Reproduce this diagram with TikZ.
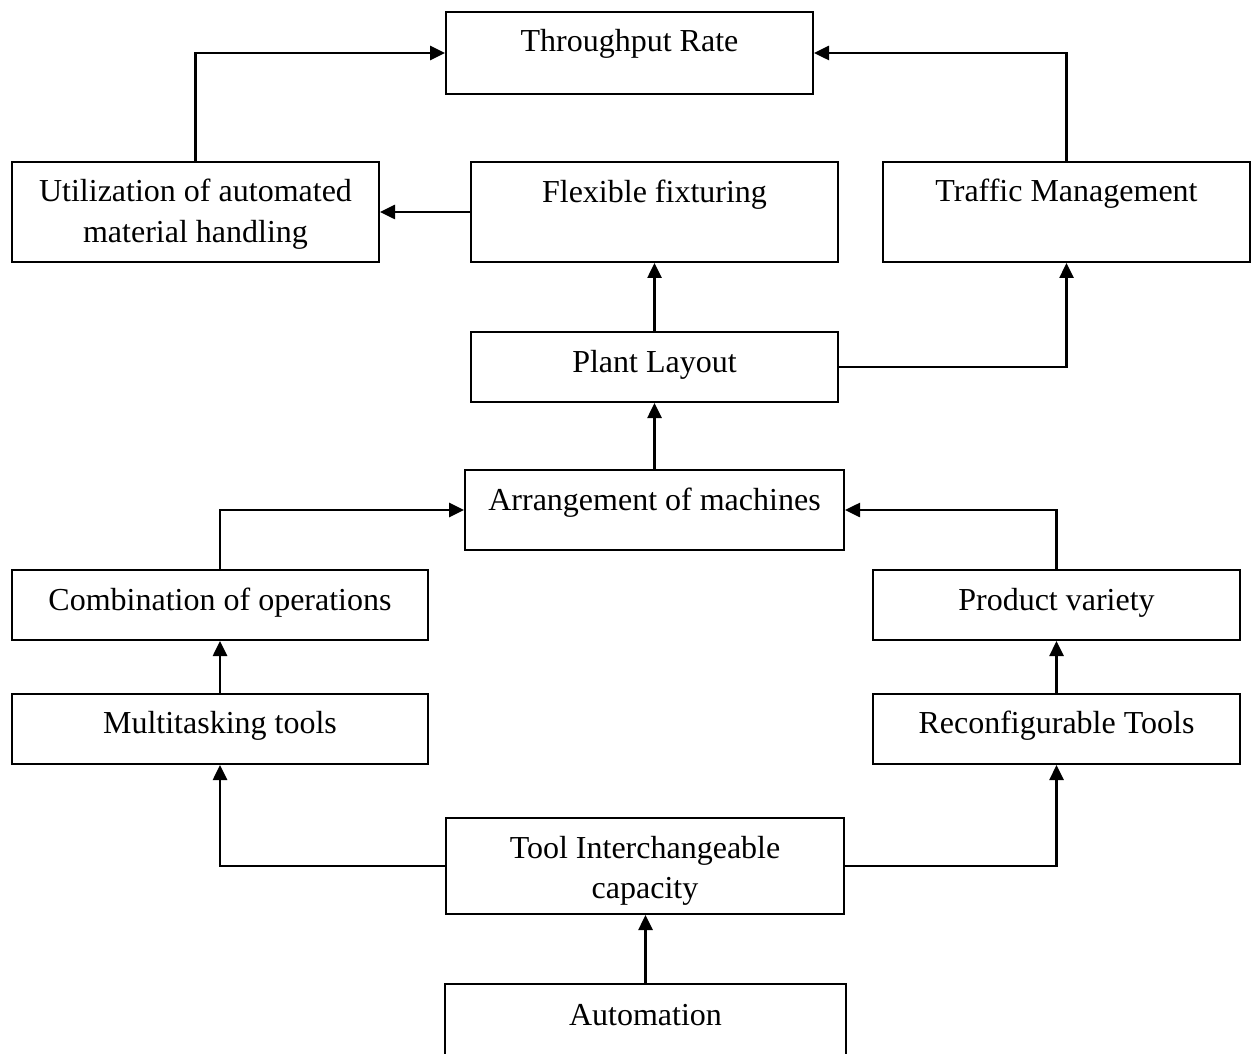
\documentclass[tikz,border=0pt]{standalone}
\usepackage{fontspec}
\setmainfont{Liberation Serif}
\usetikzlibrary{arrows.meta}

\begin{document}
\begin{tikzpicture}[
  x=0.5pt, y=-0.5pt,
  box/.style={draw=black, line width=1pt, rectangle, inner sep=0pt, fill=white},
  txt/.style={anchor=base, inner sep=0pt, font=\fontsize{16pt}{20.5pt}\selectfont},
  conn/.style={line width=1.3pt, -{Triangle[length=7.5pt,width=7pt]}}
]
\useasboundingbox (0,0) rectangle (1256,1053);
\clip (0,0) rectangle (1256,1053);

% boxes (centre in px, size in pt = px/2)
\node[box, minimum width=183.5pt, minimum height=41pt] (tr)     at (629.5,53)   {};
\node[box, minimum width=183.5pt, minimum height=50pt] (util)   at (195.5,212)  {};
\node[box, minimum width=183.5pt, minimum height=50pt] (flex)   at (654.5,212)  {};
\node[box, minimum width=183.5pt, minimum height=50pt] (traf)   at (1066.5,212) {};
\node[box, minimum width=183.5pt, minimum height=35pt] (plant)  at (654.5,367)  {};
\node[box, minimum width=189.5pt, minimum height=40pt] (arr)    at (654.5,510)  {};
\node[box, minimum width=208pt,   minimum height=35pt] (comb)   at (220,605)    {};
\node[box, minimum width=183.5pt, minimum height=35pt] (prod)   at (1056.5,605) {};
\node[box, minimum width=208pt,   minimum height=35pt] (multi)  at (220,729)    {};
\node[box, minimum width=183.5pt, minimum height=35pt] (reconf) at (1056.5,729) {};
\node[box, minimum width=199pt,   minimum height=48pt] (tic)    at (645,866)    {};
\node[box, minimum width=200.5pt, minimum height=48pt] (auto)   at (645.5,1032) {};

% labels
\node[txt] (tr-t)     at (629.5,52)   {Throughput Rate};
\node[txt] (util-t1)  at (195.5,202)  {Utilization of automated};
\node[txt] (util-t2)  at (195.5,243)  {material handling};
\node[txt] (flex-t)   at (654.5,203)  {Flexible fixturing};
\node[txt] (traf-t)   at (1066.5,202) {Traffic Management};
\node[txt] (plant-t)  at (654.5,372)  {Plant Layout};
\node[txt] (arr-t)    at (654.5,510)  {Arrangement of machines};
\node[txt] (comb-t)   at (220,610)    {Combination of operations};
\node[txt] (prod-t)   at (1056.5,610) {Product variety};
\node[txt] (multi-t)  at (220,733)    {Multitasking tools};
\node[txt] (reconf-t) at (1056.5,733) {Reconfigurable Tools};
\node[txt] (tic-t1)   at (645,858)    {Tool Interchangeable};
\node[txt] (tic-t2)   at (645,898)    {capacity};
\node[txt] (auto-t)   at (645.5,1025) {Automation};

% connectors
\draw[conn] (util.north) |- (tr.west);
\draw[conn] (traf.north) |- (tr.east);
\draw[conn] (flex.west) -- (util.east);
\draw[conn] (plant.north) -- (flex.south);
\draw[conn] (plant.east) -| (traf.south);
\draw[conn] (arr.north) -- (plant.south);
\draw[conn] (comb.north) |- (arr.west);
\draw[conn] (prod.north) |- (arr.east);
\draw[conn] (multi.north) -- (comb.south);
\draw[conn] (reconf.north) -- (prod.south);
\draw[conn] (tic.west) -| (multi.south);
\draw[conn] (tic.east) -| (reconf.south);
\draw[conn] (auto.north) -- (auto.north |- tic.south);
\end{tikzpicture}
\end{document}
